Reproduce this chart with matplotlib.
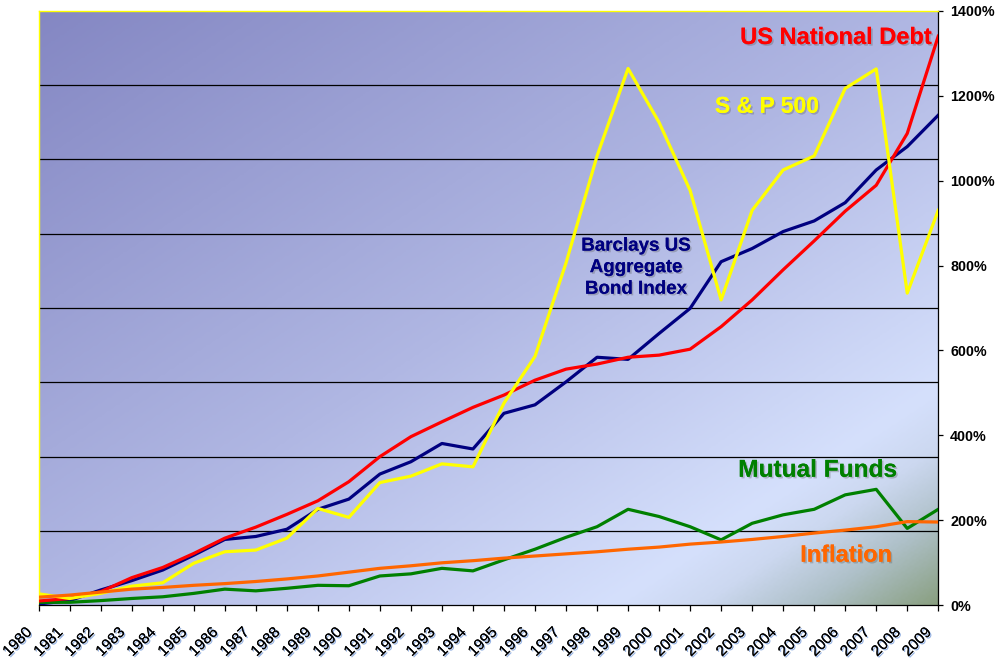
import numpy as np
import matplotlib
matplotlib.use("Agg")
import matplotlib.pyplot as plt
from matplotlib.colors import LinearSegmentedColormap
from matplotlib.transforms import ScaledTranslation
import matplotlib.patheffects as pe

plt.rcParams['font.family'] = ['Liberation Sans', 'DejaVu Sans']

years = list(range(1980, 2010))
national_debt = [10, 16, 32, 65, 89, 122, 158, 184, 214, 246, 291, 350, 397, 432, 466, 495,
                 530, 556, 568, 584, 589, 603, 656, 719, 790, 858, 928, 989, 1111, 1340]
bond_index = [3, 11, 36, 58, 83, 118, 155, 162, 179, 226, 250, 309, 338, 381, 368, 452,
              472, 526, 584, 579, 640, 699, 809, 840, 880, 905, 948, 1025, 1080, 1154]
sp500 = [27, 16, 28, 45, 53, 99, 126, 130, 158, 228, 207, 289, 304, 333, 326, 476,
         586, 806, 1058, 1264, 1137, 977, 719, 930, 1025, 1058, 1217, 1263, 735, 930]
mutual_funds = [7, 7, 11, 16, 20, 28, 38, 34, 40, 47, 46, 69, 74, 87, 81, 107,
                132, 160, 185, 226, 209, 185, 154, 193, 213, 226, 260, 273, 181, 226]
inflation = [19, 24, 31, 38, 42, 47, 51, 56, 62, 69, 78, 87, 93, 100, 105, 111,
             116, 121, 126, 132, 137, 144, 149, 155, 162, 170, 177, 185, 197, 196]

y_ticks = [0, 200, 400, 600, 800, 1000, 1200, 1400]
y_tick_labels = ['0%', '200%', '400%', '600%', '800%', '1000%', '1200%', '1400%']
grid_levels = [175, 350, 525, 700, 875, 1050, 1225]

fig = plt.figure(figsize=(9.99, 6.61), dpi=100)
fig.patch.set_facecolor('white')
ax = fig.add_axes([0.0387, 0.0843, 0.9005, 0.8995])

# gradient background
cmap = LinearSegmentedColormap.from_list('bg', [
    (0.0, '#8487C3'), (0.5, '#B0B7E3'), (0.82, '#D5E0FC'), (0.87, '#CCD8F0'),
    (0.93, '#AEC0C8'), (1.0, '#8AA082')])
nx, ny = 400, 300
u = np.linspace(0, 1, nx)[None, :]
v = np.linspace(0, 1, ny)[:, None]
t = (u + v) / 2.0
ax.imshow(t, cmap=cmap, vmin=0, vmax=1, extent=(0, 1, 0, 1), origin='upper',
          transform=ax.transAxes, aspect='auto', zorder=0, interpolation='bilinear')

for g in grid_levels:
    ax.axhline(g, color='black', lw=0.9, zorder=1)

lw = 2.3
ax.plot(years, bond_index, color='#000080', lw=lw, zorder=3)
ax.plot(years, national_debt, color='#FF0000', lw=lw, zorder=4)
ax.plot(years, mutual_funds, color='#008000', lw=lw, zorder=3)
ax.plot(years, sp500, color='#FFFF00', lw=lw, zorder=5)
ax.plot(years, inflation, color='#FF6600', lw=lw, zorder=6)

ax.set_xlim(1980, 2009)
ax.set_ylim(0, 1400)

ax.set_xticks(years)
ax.set_xticklabels([str(y) for y in years], rotation=45, ha='right', va='top',
                   fontsize=11)
ax.tick_params(axis='x', direction='out', length=4.3, width=0.9, pad=10, colors='black')
off = ScaledTranslation(-4 / 100, 0, fig.dpi_scale_trans)
for lab in ax.get_xticklabels():
    lab.set_transform(lab.get_transform() + off)
    lab.set_path_effects([pe.withSimplePatchShadow(offset=(1, -1), shadow_rgbFace='#5080d0', alpha=0.6),
                          pe.Normal()])

ax.yaxis.tick_right()
ax.set_yticks(y_ticks)
ax.set_yticklabels(y_tick_labels, fontsize=10.3, fontweight='bold')
ax.tick_params(axis='y', direction='out', length=3.6, width=0.9, pad=5)

for side in ['left', 'top']:
    ax.spines[side].set_color('#FFFF00')
    ax.spines[side].set_linewidth(1.0)
for side in ['right', 'bottom']:
    ax.spines[side].set_color('black')
    ax.spines[side].set_linewidth(0.9)

shadow = [pe.withSimplePatchShadow(offset=(1.2, -1.2), shadow_rgbFace='#606060', alpha=0.35), pe.Normal()]

def label(x, y, s, color, size, ha='left', **kw):
    ax.text(x, y, s, color=color, fontsize=size, fontweight='bold', ha=ha,
            transform=ax.transData, path_effects=shadow, zorder=7, **kw)

# positions in data coords
label(2008.8, 1337, 'US National Debt', '#FF0000', 17, ha='right', va='center')
label(2001.8, 1175, 'S & P 500', '#FFFF00', 16.5, va='center')
ax.text(1999.25, 795, 'Barclays US\nAggregate\nBond Index', color='#000080', fontsize=13.5,
        fontweight='bold', ha='center', va='center', linespacing=1.35,
        path_effects=shadow, zorder=7)
label(2002.55, 318, 'Mutual Funds', '#008000', 17.6, va='center')
label(2004.55, 118, 'Inflation', '#FF6600', 17, va='center')

fig.savefig('out.png', dpi=100)
